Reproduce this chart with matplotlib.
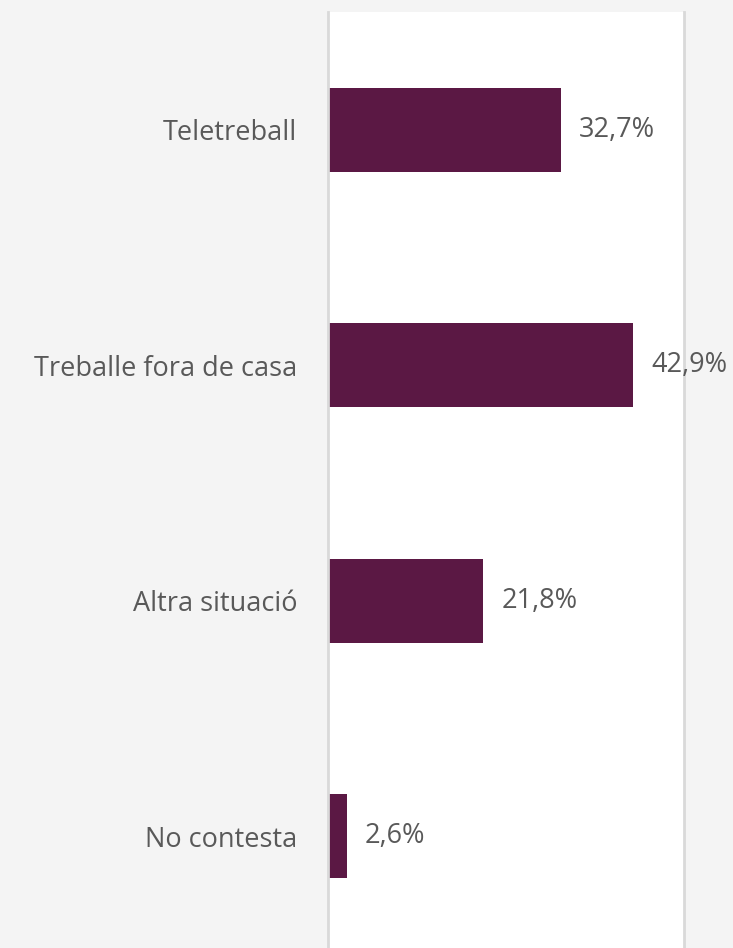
import matplotlib.pyplot as plt

categories = ['Teletreball', 'Treballe fora de casa', 'Altra situació', 'No contesta']
values = [32.7, 42.9, 21.8, 2.6]
labels = ['32,7%', '42,9%', '21,8%', '2,6%']

bar_color = '#5b1844'
text_color = '#595959'

fig = plt.figure(figsize=(7.33, 9.48), dpi=100)
fig.patch.set_facecolor('#f4f4f4')
ax = fig.add_axes([328 / 733, -6 / 948, 356 / 733, 942 / 948])
ax.set_facecolor('white')

y = list(range(len(categories)))
ax.barh(y, values, height=0.357, color=bar_color)

for yi, v, lab in zip(y, values, labels):
    ax.annotate(lab, (v, yi), xytext=(13, 0), textcoords='offset points',
                va='center', ha='left', fontsize=19.5, color=text_color,
                family='Open Sans', annotation_clip=False)

ax.set_xlim(0, 50)
ax.set_ylim(len(categories) - 0.5, -0.5)
ax.set_yticks(y)
ax.set_yticklabels(categories, fontsize=19.5, color=text_color, family='Open Sans')
ax.tick_params(axis='y', length=0, pad=22)
ax.set_xticks([])

for s in ['top', 'bottom']:
    ax.spines[s].set_visible(False)
for s in ['left', 'right']:
    ax.spines[s].set_color('#d9d9d9')
    ax.spines[s].set_linewidth(2)

fig.savefig('out.png', dpi=100, facecolor=fig.get_facecolor())
